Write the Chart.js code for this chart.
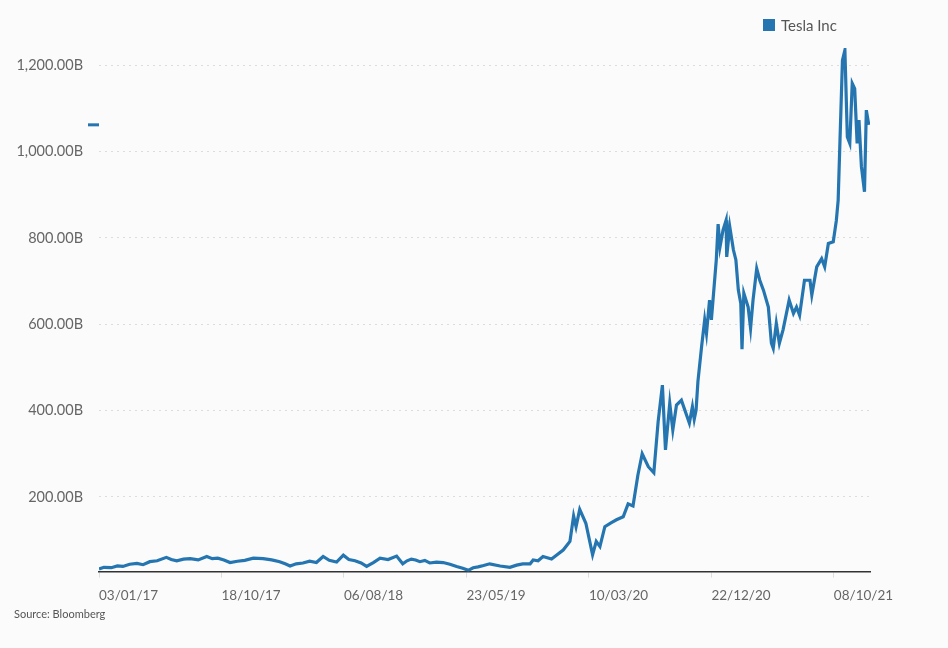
<!DOCTYPE html>
<html lang="en">
<head>
    <meta charset="UTF-8">
    <title>Tesla Inc market cap</title>
    <script src="https://cdn.jsdelivr.net/npm/chart.js"></script>
    <style>
        body { margin: 0; background: #fbfbfb; font-family: Lato, 'Open Sans', sans-serif; }
        #wrap { position: relative; width: 948px; height: 648px; }
        #legend { position: absolute; left: 763px; top: 16px; font-size: 15px; color: #555; display: flex; align-items: center; }
        #legend span { display: inline-block; width: 12px; height: 12px; background: #2475b0; margin-right: 6px; }
        #source { position: absolute; left: 14px; top: 607px; font-size: 11px; color: #555; }
    </style>
</head>
<body>
<div id="wrap">
    <canvas id="chart" width="948" height="648"></canvas>
    <div id="legend"><span></span>Tesla Inc</div>
    <div id="source">Source: Bloomberg</div>
</div>
<script>
    // trading day index since 03/01/17 and market cap in billions
    const tradingDay = [
        0, 8, 20, 30, 39, 50, 62, 72, 83, 95, 110, 118, 127, 138, 149, 162, 176, 185, 194, 204,
        214, 226, 238, 252, 268, 282, 295, 304, 312, 322, 333, 344, 355, 366, 376, 388, 399, 408,
        418, 428, 437, 448, 459, 472, 486, 496, 503, 510, 517, 524, 532, 540, 551, 562, 573, 584, 594, 603, 611, 619,
        628, 638, 655, 671, 682, 692, 704, 709, 717, 725, 739, 748, 758,
        769, 775, 779, 785, 795, 806, 812, 818, 826, 836, 845, 856, 864, 872, 880, 887, 897, 906, 913, 920, 925,
        932, 937, 943, 951, 964, 969, 972, 975, 978, 984, 989, 992, 997, 1000, 1008, 1011, 1014, 1019, 1024, 1025,
        1030, 1036, 1040, 1044, 1048, 1050, 1053, 1060, 1064, 1068, 1074, 1079, 1085, 1093, 1098, 1101, 1106, 1111, 1117, 1127,
        1134, 1139, 1144, 1152, 1161, 1164, 1172, 1180, 1185, 1191, 1199, 1204, 1207, 1210, 1214, 1218, 1222, 1226, 1230, 1234,
        1238, 1241, 1245, 1250, 1253, 1257
    ];
    const marketCapB = [
        33, 37, 36, 40, 39, 44, 46, 43, 50, 52, 60, 55, 52, 56, 57, 54, 62, 57, 58, 54,
        48, 51, 53, 58, 57, 54, 50, 45, 40, 45, 47, 51, 48, 62, 53, 49, 65, 55,
        52, 47, 39, 48, 58, 55, 63, 45, 52, 56, 54, 50, 53, 47, 49, 48, 44, 39, 35, 30, 36, 38,
        41, 45, 40, 37, 42, 45, 45, 54, 52, 62, 56, 66, 77,
        97, 156, 131, 171, 139, 66, 97, 85, 131, 140, 147, 154, 184, 179, 251, 300, 270, 256, 374, 459, 309,
        417, 355, 413, 424, 371, 409, 380, 401, 467, 548, 610, 579, 656, 610, 749, 832, 779, 818, 841, 756,
        826, 772, 749, 679, 648, 542, 672, 640, 591, 656, 729, 702, 679, 640, 556, 544, 602, 556, 587, 656,
        625, 640, 621, 702, 702, 668, 733, 752, 733, 787, 791, 840, 887, 1026, 1211, 1235, 1034, 1019, 1158, 1146,
        1019, 1073, 965, 907, 1096, 1062
    ];
    const tickDays = [0, 200, 400, 600, 800, 1000, 1200];
    const tickLabels = ['03/01/17', '18/10/17', '06/08/18', '23/05/19', '10/03/20', '22/12/20', '08/10/21'];
    const yTicks = [200, 400, 600, 800, 1000, 1200];

    const lineColor = '#2475b0';
    const fontFamily = "Lato, 'Open Sans', sans-serif";

    const lastValueMark = {
        id: 'lastValueMark',
        afterDraw(chart) {
            const y = chart.scales.y.getPixelForValue(marketCapB[marketCapB.length - 1]);
            const c = chart.ctx;
            c.save();
            c.strokeStyle = lineColor;
            c.lineWidth = 3;
            c.beginPath();
            c.moveTo(88, y);
            c.lineTo(99, y);
            c.stroke();
            c.restore();
        }
    };

    new Chart(document.getElementById('chart'), {
        type: 'line',
        data: {
            datasets: [{
                label: 'Tesla Inc',
                data: tradingDay.map((d, i) => ({ x: d, y: marketCapB[i] })),
                borderColor: lineColor,
                borderWidth: 3.2,
                pointRadius: 0,
                tension: 0,
                fill: false
            }]
        },
        options: {
            responsive: false,
            animation: false,
            layout: { padding: { top: 48, right: 78, left: 0, bottom: 0 } },
            plugins: { legend: { display: false }, tooltip: { enabled: false } },
            scales: {
                x: {
                    type: 'linear',
                    min: 0,
                    max: 1259,
                    afterFit: s => { s.height = 76.4; },
                    afterBuildTicks: s => { s.ticks = tickDays.map(v => ({ value: v })); },
                    grid: { drawOnChartArea: false, drawTicks: true, tickLength: 6, color: '#dddddd' },
                    border: { color: '#333333', width: 1.5 },
                    ticks: {
                        align: 'start',
                        padding: 10,
                        color: '#666',
                        font: { family: fontFamily, size: 13.5 },
                        callback: v => tickLabels[tickDays.indexOf(v)]
                    }
                },
                y: {
                    min: 27,
                    max: 1240,
                    afterFit: s => { s.width = 99; },
                    afterBuildTicks: s => { s.ticks = yTicks.map(v => ({ value: v })); },
                    ticks: {
                        padding: 16,
                        color: '#666',
                        font: { family: fontFamily, size: 14.5 },
                        callback: v => v.toLocaleString('en-US', { minimumFractionDigits: 2, maximumFractionDigits: 2 }) + 'B'
                    },
                    grid: { drawTicks: false, color: '#dcdcdc', lineWidth: 1 },
                    border: { display: false, dash: [2, 4] }
                }
            }
        },
        plugins: [lastValueMark]
    });
</script>
</body>
</html>
